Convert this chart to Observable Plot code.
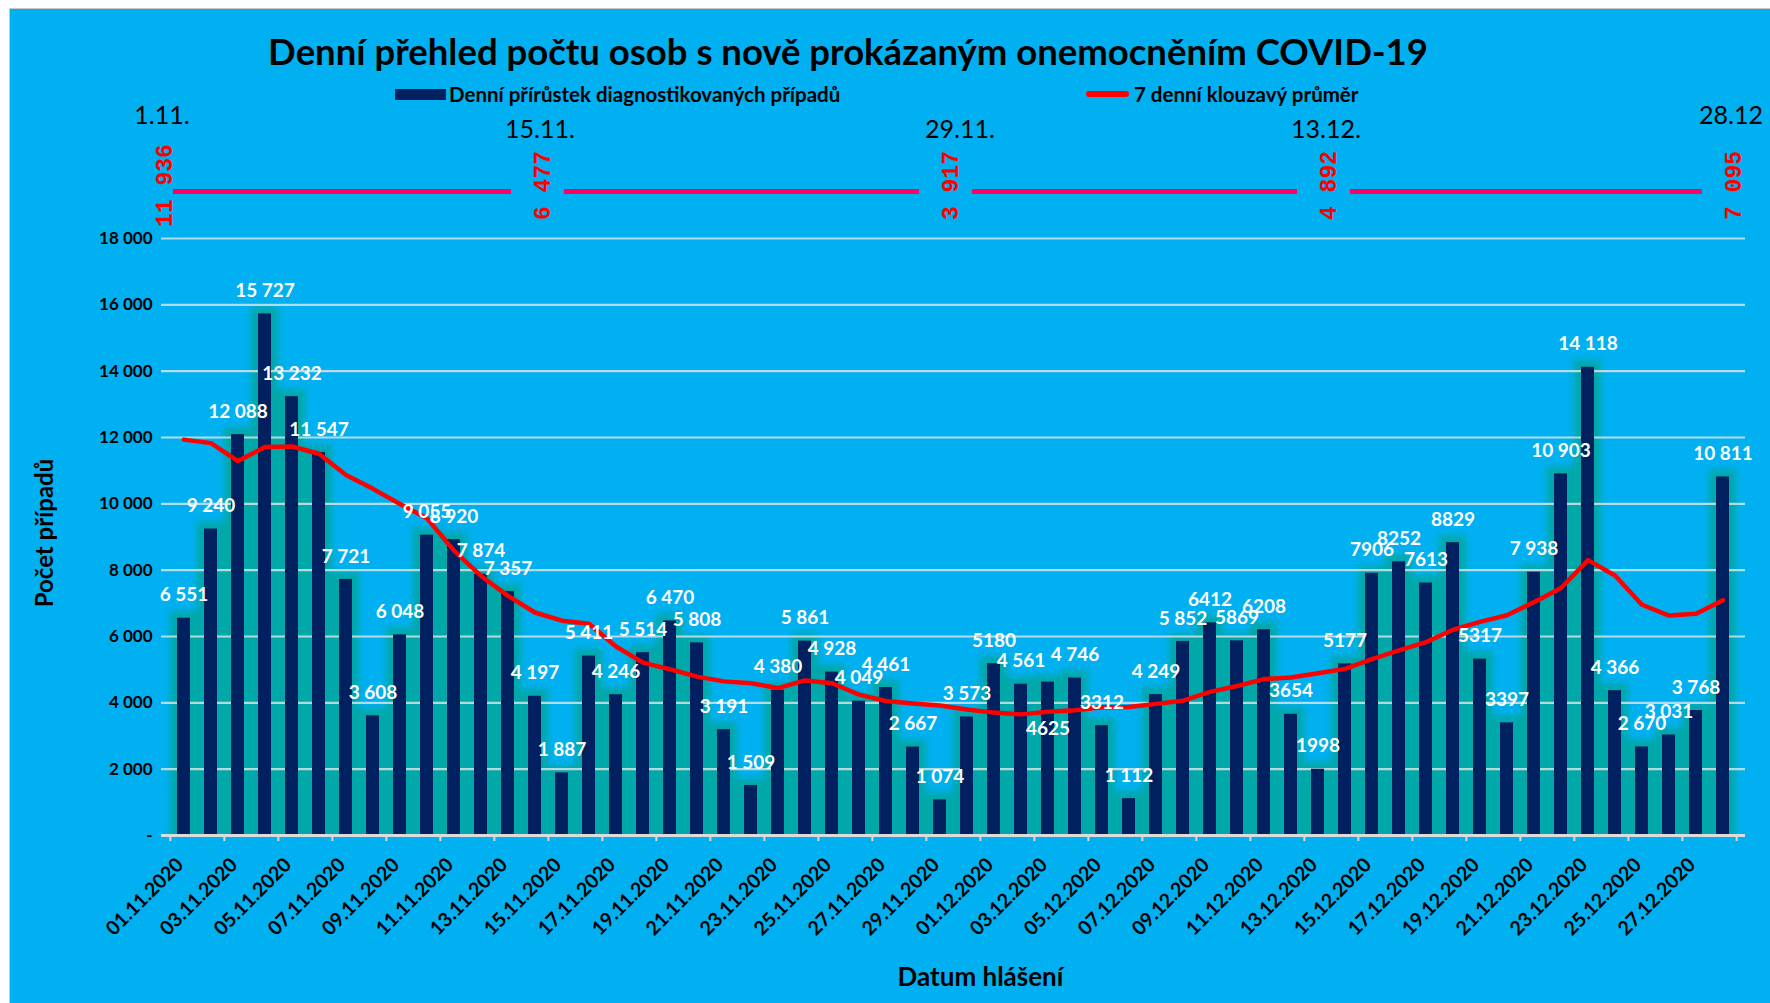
<!DOCTYPE html>
<html><head><meta charset="utf-8">
<script src="https://cdn.jsdelivr.net/npm/d3@7"></script>
<script src="https://cdn.jsdelivr.net/npm/@observablehq/plot@0.6"></script>
<style>
html,body{margin:0;padding:0;background:#fff;width:1770px;height:1003px;overflow:hidden;font-family:Lato,"Open Sans",sans-serif;}
#bg{position:absolute;left:9px;top:8px;width:1761px;height:995px;background:#00B0F0;border-left:1px solid #c8c8c8;border-top:1px solid #c8c8c8;}
#chart{position:absolute;left:0;top:0;}
#title{position:absolute;left:0;top:29px;width:1696px;text-align:center;font-size:36.5px;font-weight:bold;line-height:44px;color:#000;}
.lg{position:absolute;font-size:20.5px;font-weight:bold;line-height:24px;color:#000;white-space:nowrap;}
.sw1{position:absolute;left:395px;top:89px;width:51px;height:11px;background:#002060;}
.sw2{position:absolute;left:1086px;top:91px;width:43px;height:6px;background:#ff0000;border-radius:3px;}
</style>
</head><body>
<div id="bg"></div>
<div id="chart"></div>
<div id="title">Denní přehled počtu osob s nově prokázaným onemocněním COVID-19</div>
<div class="sw1"></div><div class="lg" style="left:449px;top:82px;">Denní přírůstek diagnostikovaných případů</div>
<div class="sw2"></div><div class="lg" style="left:1134px;top:82px;">7 denní klouzavý průměr</div>
<script>
const dates = [
"01.11.2020","02.11.2020","03.11.2020","04.11.2020","05.11.2020","06.11.2020","07.11.2020","08.11.2020","09.11.2020","10.11.2020",
"11.11.2020","12.11.2020","13.11.2020","14.11.2020","15.11.2020","16.11.2020","17.11.2020","18.11.2020","19.11.2020","20.11.2020",
"21.11.2020","22.11.2020","23.11.2020","24.11.2020","25.11.2020","26.11.2020","27.11.2020","28.11.2020","29.11.2020","30.11.2020",
"01.12.2020","02.12.2020","03.12.2020","04.12.2020","05.12.2020","06.12.2020","07.12.2020","08.12.2020","09.12.2020","10.12.2020",
"11.12.2020","12.12.2020","13.12.2020","14.12.2020","15.12.2020","16.12.2020","17.12.2020","18.12.2020","19.12.2020","20.12.2020",
"21.12.2020","22.12.2020","23.12.2020","24.12.2020","25.12.2020","26.12.2020","27.12.2020","28.12.2020"];
const cases = [
6551,9240,12088,15727,13232,11547,7721,3608,6048,9055,
8920,7874,7357,4197,1887,5411,4246,5514,6470,5808,
3191,1509,4380,5861,4928,4049,4461,2667,1074,3573,
5180,4561,4625,4746,3312,1112,4249,5852,6412,5869,
6208,3654,1998,5177,7906,8252,7613,8829,5317,3397,
7938,10903,14118,4366,2670,3031,3768,10811];
const movingAvg = [
11936,11830,11290,11710,11730,11510,10872,10452,9996,9563,
8590,7825,7226,6723,6477,6386,5699,5212,5012,4790,
4647,4593,4445,4676,4592,4247,4054,3979,3917,3802,
3705,3652,3734,3775,3867,3873,3969,4065,4330,4507,
4716,4765,4892,5024,5318,5581,5830,6204,6442,6642,
7036,7464,8302,7838,6958,6632,6685,7095];
const barLabels = [
"6 551","9 240","12 088","15 727","13 232","11 547","7 721","3 608","6 048","9 055",
"8 920","7 874","7 357","4 197","1 887","5 411","4 246","5 514","6 470","5 808",
"3 191","1 509","4 380","5 861","4 928","4 049","4 461","2 667","1 074","3 573",
"5180","4 561","4625","4 746","3312","1 112","4 249","5 852","6412","5869",
"6208","3654","1998","5177","7906","8252","7613","8829","5317","3397",
"7 938","10 903","14 118","4 366","2 670","3 031","3 768","10 811"];
const xTickDates = ["01.11.2020","03.11.2020","05.11.2020","07.11.2020","09.11.2020","11.11.2020","13.11.2020","15.11.2020","17.11.2020","19.11.2020","21.11.2020","23.11.2020","25.11.2020","27.11.2020","29.11.2020","01.12.2020","03.12.2020","05.12.2020","07.12.2020","09.12.2020","11.12.2020","13.12.2020","15.12.2020","17.12.2020","19.12.2020","21.12.2020","23.12.2020","25.12.2020","27.12.2020"];
const yTicks = [0,2000,4000,6000,8000,10000,12000,14000,16000,18000];
const annotDates = ["01.11.2020","15.11.2020","29.11.2020","13.12.2020","28.12.2020"];
const annotTitles = ["1.11.","15.11.","29.11.","13.12.","28.12"];
const annotValues = [11936,6477,3917,4892,7095];

const fmt = d3.formatLocale({decimal:",",thousands:" ",grouping:[3],currency:["",""]}).format(",d");
const data = dates.map((d,i)=>({date:d, cases:cases[i], ma:movingAvg[i], label:barLabels[i]}));
const annot = annotDates.map((d,i)=>({date:d, title:annotTitles[i], v:annotValues[i], i}));
const insideLabel = new Set(["03.12.2020"]);

const W=1770,H=1003,mL=161,mR=25,mT=238,mB=168;
const step=(W-mL-mR)/dates.length;
const yMax = yTicks[yTicks.length-1];
const F = "Lato, 'Open Sans', sans-serif";
const MONO = "'Liberation Mono', 'DejaVu Sans Mono', monospace";
const shift = i => i < 2 ? -22 : 8;   // horizontal nudge of the top annotation group
const titleShift = i => i === 2 ? 20 : shift(i);

const annotMarks = [];
annot.forEach(a => {
  const top = a.i === 0 || a.i === annot.length - 1;
  annotMarks.push(
    Plot.text([a],{x:"date", text:d=>fmt(d.v), frameAnchor:"top", dy:-53, dx:shift(a.i)-6, rotate:-90, fill:"#ff0000", fontSize:23, fontWeight:"bold", fontFamily:MONO}),
    Plot.text([a],{x:"date", text:"title", frameAnchor:"top", dy: top ? -132 : -118, dx:titleShift(a.i), fontSize:25, fontFamily:F})
  );
});
d3.pairs(annot).forEach(([a,b]) => {
  annotMarks.push(Plot.ruleY([[a.date,b.date]],{x1:d=>d[0], x2:d=>d[1], y:()=>yMax, dy:-47, stroke:"#ff0066", strokeWidth:5,
    insetLeft: (a.i === 0 ? 25 : 38) + shift(a.i), insetRight: 42 - shift(b.i)}));
});

const svg = Plot.plot({
  width:W, height:H, marginLeft:mL, marginRight:mR, marginTop:mT, marginBottom:mB,
  style:{background:"transparent", fontFamily:F, overflow:"visible", color:"#000"},
  x:{domain:dates, padding:0, axis:null},
  y:{domain:[0,yMax], axis:null},
  marks:[
    Plot.barY(data,{x:"date", y:"cases", fill:"#04a8aa", insetLeft:7, insetRight:7}),
    Plot.ruleY(yTicks.filter(v=>v>0),{stroke:"#e8e8e8", strokeOpacity:0.78, strokeWidth:2.2}),
    Plot.barY(data,{x:"date", y:"cases", fill:"#002060", insetLeft:7, insetRight:7}),
    Plot.ruleY([0],{stroke:"#dcdcdc", strokeWidth:3}),
    Plot.line(data,{x:"date", y:"ma", stroke:"#ff0000", strokeWidth:4.5, strokeLinejoin:"round"}),
    Plot.text(data.filter(d=>!insideLabel.has(d.date)),{x:"date", y:"cases", text:"label", dy:-23, fill:"#fff", fontSize:19, fontWeight:"bold", fontFamily:F}),
    Plot.text(data.filter(d=>insideLabel.has(d.date)),{x:"date", y:"cases", text:"label", dy:47, fill:"#fff", fontSize:19, fontWeight:"bold", fontFamily:F}),
    Plot.axisY({ticks:yTicks, tickSize:0, tickPadding:9, tickFormat:v=>v===0?"-":fmt(v), fontSize:17, fontWeight:"bold", label:null, fontFamily:F}),
    Plot.axisX({ticks:xTickDates, tickSize:6, tickFormat:()=>"", dx:-step/2, stroke:"#dcdcdc", strokeWidth:2, label:null}),
    Plot.axisX({ticks:[dates[dates.length-1]], tickSize:6, tickFormat:()=>"", dx:step/2, stroke:"#dcdcdc", strokeWidth:2, label:null}),
    Plot.axisX({ticks:xTickDates, tickSize:0, tickPadding:26, tickRotate:-45, fontSize:19.5, fontWeight:"bold", label:null, fontFamily:F, dx:-4}),
    Plot.text(["Počet případů"],{frameAnchor:"left", textAnchor:"middle", dx:-116, dy:-4, rotate:-90, fontSize:24, fontWeight:"bold", fontFamily:F}),
    Plot.text(["Datum hlášení"],{frameAnchor:"bottom", dy:150, dx:27, fontSize:26, fontWeight:"bold", fontFamily:F}),
    ...annotMarks
  ]
});
const s = d3.select(svg);
const defs = s.insert("defs",":first-child");
const f = defs.append("filter").attr("id","glow").attr("filterUnits","userSpaceOnUse").attr("x",0).attr("y",0).attr("width",W).attr("height",H);
f.append("feMorphology").attr("operator","dilate").attr("radius",7);
f.append("feGaussianBlur").attr("stdDeviation",3);
defs.append("clipPath").attr("id","clipb").append("rect").attr("x",mL-4).attr("y",0).attr("width",W).attr("height",H-mB);
const glowG = s.selectAll('g[aria-label="bar"]').nodes()[0];
d3.select(glowG).attr("filter","url(#glow)");
const wrap = s.insert("g",()=>glowG).attr("clip-path","url(#clipb)");
wrap.node().appendChild(glowG);
document.getElementById("chart").appendChild(svg);
</script>
</body></html>
